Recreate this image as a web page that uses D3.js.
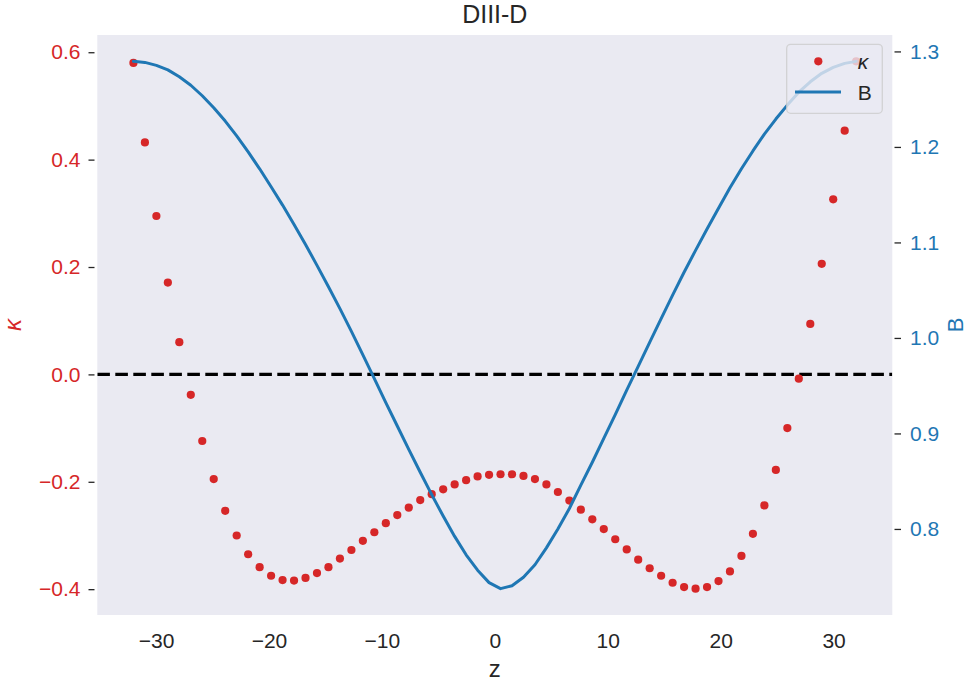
<!DOCTYPE html>
<html>
<head>
<meta charset="utf-8">
<script src="https://cdn.jsdelivr.net/npm/d3@7"></script>
<style>
  html, body { margin: 0; padding: 0; background: #ffffff; }
  svg { display: block; }
  text { font-family: "Liberation Sans", Arial, sans-serif; }
</style>
</head>
<body>
<svg id="chart" width="969" height="682"></svg>
<script>
// Axial coordinate z (64 evenly spaced samples)
const z = [
  -32.000, -30.984, -29.968, -28.952, -27.937, -26.921, -25.905, -24.889,
  -23.873, -22.857, -21.841, -20.825, -19.810, -18.794, -17.778, -16.762,
  -15.746, -14.730, -13.714, -12.698, -11.683, -10.667, -9.651, -8.635,
  -7.619, -6.603, -5.587, -4.571, -3.556, -2.540, -1.524, -0.508,
  0.508, 1.524, 2.540, 3.556, 4.571, 5.587, 6.603, 7.619,
  8.635, 9.651, 10.667, 11.683, 12.698, 13.714, 14.730, 15.746,
  16.762, 17.778, 18.794, 19.810, 20.825, 21.841, 22.857, 23.873,
  24.889, 25.905, 26.921, 27.937, 28.952, 29.968, 30.984, 32.000
];

// Field-line curvature kappa(z)
const kappa = [
  0.580, 0.432, 0.295, 0.171, 0.060, -0.038, -0.124, -0.195,
  -0.254, -0.300, -0.335, -0.359, -0.375, -0.383, -0.384, -0.379,
  -0.370, -0.359, -0.343, -0.327, -0.310, -0.294, -0.277, -0.262,
  -0.248, -0.234, -0.223, -0.214, -0.205, -0.197, -0.190, -0.187,
  -0.186, -0.186, -0.189, -0.195, -0.205, -0.219, -0.235, -0.252,
  -0.270, -0.288, -0.307, -0.326, -0.345, -0.361, -0.375, -0.388,
  -0.396, -0.399, -0.396, -0.385, -0.367, -0.338, -0.297, -0.244,
  -0.178, -0.100, -0.008, 0.094, 0.206, 0.326, 0.454, 0.583
];

// Magnetic field strength B(z)
const B = [
  1.2896, 1.2885, 1.2854, 1.2807, 1.2734, 1.2646, 1.2536, 1.2411,
  1.2271, 1.2115, 1.1948, 1.1771, 1.1583, 1.1391, 1.1188, 1.0979,
  1.0760, 1.0536, 1.0307, 1.0068, 0.9823, 0.9573, 0.9323, 0.9078,
  0.8833, 0.8594, 0.8359, 0.8135, 0.7922, 0.7729, 0.7568, 0.7438,
  0.7375, 0.7406, 0.7495, 0.7625, 0.7802, 0.8000, 0.8214, 0.8458,
  0.8698, 0.8948, 0.9198, 0.9453, 0.9703, 0.9953, 1.0203, 1.0448,
  1.0688, 1.0917, 1.1141, 1.1359, 1.1573, 1.1771, 1.1958, 1.2135,
  1.2292, 1.2438, 1.2573, 1.2682, 1.2771, 1.2833, 1.2875, 1.2896
];

const xTicks = [-30, -20, -10, 0, 10, 20, 30];
const kappaTicks = [-0.4, -0.2, 0.0, 0.2, 0.4, 0.6];
const bTicks = [0.8, 0.9, 1.0, 1.1, 1.2, 1.3];

const titleText = "DIII-D";
const xLabel = "z";
const kappaLabel = "κ";
const bLabel = "B";

const RED = "#d62728";
const BLUE = "#1f77b4";
const INK = "#262626";
const BG = "#eaeaf2";

const plot = { left: 97.3, right: 892.3, top: 35, bottom: 615 };

// 5% padding around the data extent
function padded(values) {
  const [lo, hi] = d3.extent(values);
  const pad = (hi - lo) * 0.05;
  return [lo - pad, hi + pad];
}

const x = d3.scaleLinear().domain(padded(z)).range([plot.left, plot.right]);
const yK = d3.scaleLinear().domain(padded(kappa)).range([plot.bottom, plot.top]);
const yB = d3.scaleLinear().domain(padded(B)).range([plot.bottom, plot.top]);

const svg = d3.select("#chart");

// plot background
svg.append("rect")
  .attr("x", plot.left).attr("y", plot.top)
  .attr("width", plot.right - plot.left)
  .attr("height", plot.bottom - plot.top)
  .attr("fill", BG);

const fmt = d3.format(".1f");

// left axis (kappa)
const axL = svg.append("g")
  .attr("transform", `translate(${plot.left - 2.8},0)`)
  .call(d3.axisLeft(yK).tickValues(kappaTicks).tickFormat(fmt).tickSize(6).tickPadding(8));
axL.select(".domain").remove();
axL.selectAll(".tick line").attr("stroke", INK).attr("stroke-width", 1.3);
axL.selectAll(".tick text").attr("fill", RED).style("font-size", "21px");

// right axis (B)
const axR = svg.append("g")
  .attr("transform", `translate(${plot.right + 2.2},0)`)
  .call(d3.axisRight(yB).tickValues(bTicks).tickFormat(fmt).tickSize(6.5).tickPadding(9));
axR.select(".domain").remove();
axR.selectAll(".tick line").attr("stroke", INK).attr("stroke-width", 1.3);
axR.selectAll(".tick text").attr("fill", BLUE).style("font-size", "21px");

// bottom axis (z)
const axB = svg.append("g")
  .attr("transform", `translate(0,${plot.bottom})`)
  .call(d3.axisBottom(x).tickValues(xTicks).tickFormat(d3.format("d")).tickSize(0).tickPadding(18));
axB.select(".domain").remove();
axB.selectAll(".tick text").attr("fill", INK).style("font-size", "21px");

// clip to plotting area
svg.append("clipPath").attr("id", "clip")
  .append("rect")
  .attr("x", plot.left).attr("y", plot.top)
  .attr("width", plot.right - plot.left)
  .attr("height", plot.bottom - plot.top);

const inner = svg.append("g").attr("clip-path", "url(#clip)");

// kappa = 0 reference line
inner.append("line")
  .attr("x1", plot.left).attr("x2", plot.right)
  .attr("y1", yK(0)).attr("y2", yK(0))
  .attr("stroke", "#000").attr("stroke-width", 3.2)
  .attr("stroke-dasharray", "12.6,5.4");

// kappa markers
inner.append("g").selectAll("circle")
  .data(z.map((v, i) => [v, kappa[i]]))
  .join("circle")
  .attr("cx", d => x(d[0]))
  .attr("cy", d => yK(d[1]))
  .attr("r", 4.1)
  .attr("fill", RED);

// B line
inner.append("path")
  .datum(z.map((v, i) => [v, B[i]]))
  .attr("fill", "none")
  .attr("stroke", BLUE)
  .attr("stroke-width", 3)
  .attr("stroke-linejoin", "round")
  .attr("stroke-linecap", "round")
  .attr("d", d3.line().x(d => x(d[0])).y(d => yB(d[1])));

// title
svg.append("text")
  .attr("x", (plot.left + plot.right) / 2).attr("y", 22.5)
  .attr("text-anchor", "middle")
  .attr("fill", INK)
  .style("font-size", "25px")
  .text(titleText);

// axis labels
svg.append("text")
  .attr("x", (plot.left + plot.right) / 2).attr("y", 677)
  .attr("text-anchor", "middle")
  .attr("fill", INK)
  .style("font-size", "24px")
  .text(xLabel);

svg.append("text")
  .attr("transform", `translate(21,${(plot.top + plot.bottom) / 2}) rotate(-90)`)
  .attr("text-anchor", "middle")
  .attr("fill", RED)
  .style("font-size", "24px")
  .style("font-style", "italic")
  .text(kappaLabel);

svg.append("text")
  .attr("transform", `translate(963,${(plot.top + plot.bottom) / 2}) rotate(-90)`)
  .attr("text-anchor", "middle")
  .attr("fill", BLUE)
  .style("font-size", "22px")
  .text(bLabel);

// legend
const lg = svg.append("g").attr("transform", "translate(786.7,44.3)");
lg.append("rect")
  .attr("width", 95.6).attr("height", 69)
  .attr("rx", 4).attr("ry", 4)
  .attr("fill", BG).attr("fill-opacity", 0.8)
  .attr("stroke", "#cccccc").attr("stroke-opacity", 0.8).attr("stroke-width", 1.3);
lg.append("circle")
  .attr("cx", 31.6).attr("cy", 17).attr("r", 4.1).attr("fill", RED);
lg.append("text")
  .attr("x", 71).attr("y", 24.5)
  .attr("fill", INK)
  .style("font-size", "21px").style("font-style", "italic")
  .text(kappaLabel);
lg.append("line")
  .attr("x1", 8.3).attr("x2", 54.3).attr("y1", 47.7).attr("y2", 47.7)
  .attr("stroke", BLUE).attr("stroke-width", 3);
lg.append("text")
  .attr("x", 71).attr("y", 55.5)
  .attr("fill", INK)
  .style("font-size", "21px")
  .text(bLabel);
</script>
</body>
</html>
